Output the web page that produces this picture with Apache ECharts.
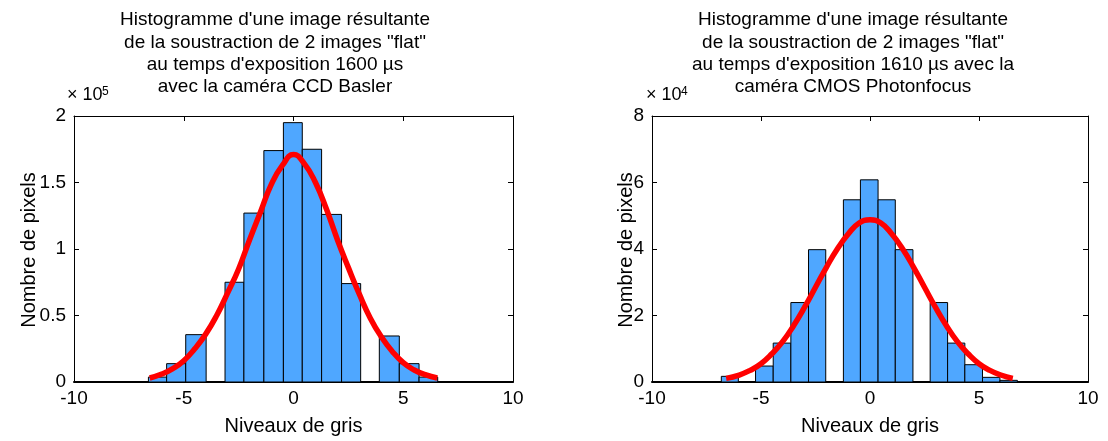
<!DOCTYPE html>
<html>
<head>
<meta charset="utf-8">
<script src="https://cdn.jsdelivr.net/npm/echarts@6/dist/echarts.min.js"></script>
<style>
  html, body { margin: 0; padding: 0; background: #fff; }
  #chart { width: 1108px; height: 441px; }
</style>
</head>
<body>
<div id="chart"></div>
<script>
// CCD Basler histogram (counts in pixels), bin edges in grey levels
const baslerEdges = [-6.61, -5.78, -4.91, -3.98, -3.12, -2.26, -1.35, -0.46, 0.40, 1.28, 2.19, 3.06, 3.91, 4.82, 5.72, 6.57]
const baslerCounts = [3700, 13800, 35600, 0, 75000, 127000, 174000, 195000, 175000, 126000, 74000, 0, 34600, 13800, 3700]
// gaussian fit
const baslerFitX = [-6.55, -6, -5.5, -5, -4.5, -4, -3.5, -3, -2.5, -2, -1.5, -1, -0.5, 0, 0.5, 1, 1.5, 2, 2.5, 3, 3.5, 4, 4.5, 5, 5.5, 6, 6.55]
const baslerFitY = [3000, 6000, 10000, 16000, 25000, 36000, 50000, 67000, 85000, 107000, 128000, 149000, 163000, 171000, 164000, 150000, 130000, 107000, 86000, 66000, 48000, 34000, 23000, 14500, 9000, 5500, 3000]

// CMOS Photonfocus histogram
const photonEdges = [-6.82, -6.04, -5.25, -4.44, -3.63, -2.82, -2.03, -1.22, -0.44, 0.37, 1.16, 1.97, 2.76, 3.56, 4.35, 5.16, 5.96, 6.76]
const photonCounts = [1700, 0, 4800, 11700, 23900, 39800, 0, 54800, 60800, 54800, 39800, 0, 23900, 11700, 5200, 1400, 500]
const photonFitX = [-6.6, -6, -5.5, -5, -4.5, -4, -3.5, -3, -2.5, -2, -1.5, -1, -0.5, 0, 0.5, 1, 1.5, 2, 2.5, 3, 3.5, 4, 4.5, 5, 5.5, 6, 6.55]
const photonFitY = [1100, 2100, 3500, 5500, 8500, 12200, 17000, 22500, 28500, 34500, 40000, 44500, 47800, 48800, 47800, 44500, 40000, 34500, 28500, 22500, 17000, 12200, 8500, 5500, 3500, 2100, 1100]

const xTicks = [-10, -5, 0, 5, 10]

const FONT = 'Liberation Sans'
const barColor = '#4fa7ff'

const toBins = (edges, counts) => counts.map((c, i) => [edges[i], edges[i + 1], c])
const toPoints = (xs, ys) => xs.map((x, i) => [x, ys[i]])

const renderBin = (params, api) => {
  const h = api.value(2)
  if (!h) return null
  const p0 = api.coord([api.value(0), 0])
  const p1 = api.coord([api.value(1), h])
  return {
    type: 'rect',
    shape: { x: p0[0], y: p1[1], width: p1[0] - p0[0], height: p0[1] - p1[1] },
    style: { fill: barColor, stroke: '#000', lineWidth: 1 }
  }
}

const grids = [
  { left: 74, top: 116, width: 439, height: 267 },
  { left: 652, top: 116, width: 436, height: 267 }
]

const xAxisFor = (gi, pos) => ({
  type: 'value',
  gridIndex: gi,
  position: pos,
  min: xTicks[0],
  max: xTicks[xTicks.length - 1],
  interval: 5,
  splitLine: { show: false },
  axisLine: { show: true, onZero: false, lineStyle: { color: '#000', width: pos === 'bottom' ? 2 : 1 } },
  axisTick: { show: true, inside: true, length: 5, lineStyle: { color: '#000' } },
  axisLabel: { show: pos === 'bottom', color: '#000', fontFamily: FONT, fontSize: 19, margin: 7 }
})

const yAxisFor = (gi, pos, max, scale) => ({
  type: 'value',
  gridIndex: gi,
  position: pos,
  min: 0,
  max: max,
  interval: max / 4,
  splitLine: { show: false },
  axisLine: { show: true, onZero: false, lineStyle: { color: '#000', width: 1 } },
  axisTick: { show: true, inside: true, length: 5, lineStyle: { color: '#000' } },
  axisLabel: {
    show: pos === 'left',
    color: '#000',
    fontFamily: FONT,
    fontSize: 19,
    margin: 8,
    padding: [4, 0, 0, 0],
    formatter: v => String(+(v / scale).toFixed(2))
  }
})

const txt = (x, y, text, extra) => ({
  type: 'text',
  x: x,
  y: y,
  style: Object.assign({ text: text, fill: '#000', font: '19px ' + FONT, textAlign: 'center', textVerticalAlign: 'middle' }, extra || {})
})

const titleLeft = [
  "Histogramme d'une image résultante",
  'de la soustraction de 2 images "flat"',
  "au temps d'exposition 1600 µs",
  'avec la caméra CCD Basler'
]
const titleRight = [
  "Histogramme d'une image résultante",
  'de la soustraction de 2 images "flat"',
  "au temps d'exposition 1610 µs avec la",
  'caméra CMOS Photonfocus'
]

const graphics = []
titleLeft.forEach((t, i) => graphics.push(txt(275, 20 + i * 22.3, t)))
titleRight.forEach((t, i) => graphics.push(txt(853, 20 + i * 22.3, t)))
const yName1 = txt(29, 250, 'Nombre de pixels', { font: '20px ' + FONT })
yName1.rotation = Math.PI / 2
const yName2 = txt(626, 250, 'Nombre de pixels', { font: '20px ' + FONT })
yName2.rotation = Math.PI / 2
graphics.push(yName1, yName2)
graphics.push(txt(67, 104, '× 10', { textAlign: 'left', textVerticalAlign: 'bottom', font: '18px ' + FONT }))
graphics.push(txt(102, 98, '5', { textAlign: 'left', textVerticalAlign: 'bottom', font: '12px ' + FONT }))
graphics.push(txt(646, 104, '× 10', { textAlign: 'left', textVerticalAlign: 'bottom', font: '18px ' + FONT }))
graphics.push(txt(681, 98, '4', { textAlign: 'left', textVerticalAlign: 'bottom', font: '12px ' + FONT }))

const xName = {
  name: 'Niveaux de gris',
  nameLocation: 'middle',
  nameGap: 34,
  nameTextStyle: { color: '#000', fontFamily: FONT, fontSize: 20 }
}

const option = {
  animation: false,
  backgroundColor: '#fff',
  grid: grids,
  xAxis: [
    Object.assign(xAxisFor(0, 'bottom'), xName),
    xAxisFor(0, 'top'),
    Object.assign(xAxisFor(1, 'bottom'), xName),
    xAxisFor(1, 'top')
  ],
  yAxis: [
    yAxisFor(0, 'left', 200000, 100000),
    yAxisFor(0, 'right', 200000, 100000),
    yAxisFor(1, 'left', 80000, 10000),
    yAxisFor(1, 'right', 80000, 10000)
  ],
  graphic: graphics,
  series: [
    {
      type: 'custom',
      xAxisIndex: 0,
      yAxisIndex: 0,
      renderItem: renderBin,
      encode: { x: [0, 1], y: 2 },
      data: toBins(baslerEdges, baslerCounts),
      z: 2
    },
    {
      type: 'line',
      xAxisIndex: 0,
      yAxisIndex: 0,
      smooth: true,
      showSymbol: false,
      lineStyle: { color: '#ff0000', width: 5.5 },
      data: toPoints(baslerFitX, baslerFitY),
      z: 3
    },
    {
      type: 'custom',
      xAxisIndex: 2,
      yAxisIndex: 2,
      renderItem: renderBin,
      encode: { x: [0, 1], y: 2 },
      data: toBins(photonEdges, photonCounts),
      z: 2
    },
    {
      type: 'line',
      xAxisIndex: 2,
      yAxisIndex: 2,
      smooth: true,
      showSymbol: false,
      lineStyle: { color: '#ff0000', width: 5.5 },
      data: toPoints(photonFitX, photonFitY),
      z: 3
    }
  ]
}

const myChart = echarts.init(document.getElementById('chart'), null, { renderer: 'canvas' })
myChart.setOption(option)
</script>
</body>
</html>
